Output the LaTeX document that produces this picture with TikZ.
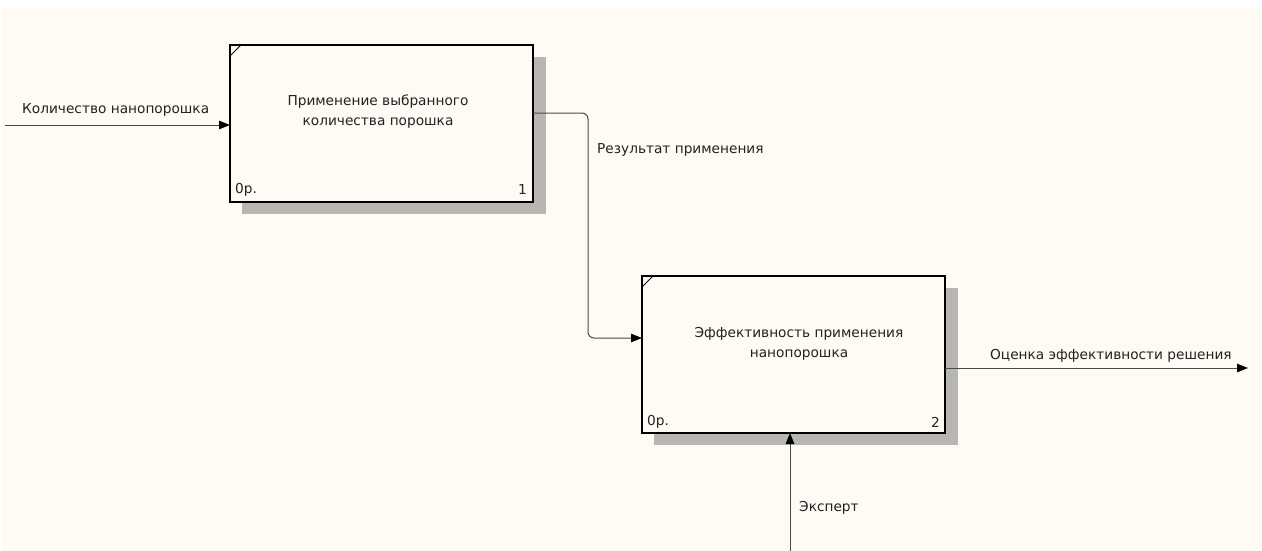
\documentclass[tikz,border=0pt]{standalone}
\usepackage{fontspec}
\setmainfont{DejaVu Sans}
\usetikzlibrary{arrows.meta}
\definecolor{paper}{HTML}{FFFAF3}
\definecolor{ink}{HTML}{222222}
\definecolor{wire}{HTML}{4A4A4A}
\definecolor{shadowgray}{HTML}{B8B6B2}
\begin{document}
\begin{tikzpicture}[x=1pt,y=-1pt,
  actbox/.style={draw=black, line width=1.6pt, fill=paper, minimum width=303pt,
    minimum height=157pt, inner sep=0pt, outer sep=0pt, anchor=north west},
  lbl/.style={font=\fontsize{13.7}{20}\selectfont, text=ink, inner sep=0pt},
  wirearrow/.style={draw=wire, line width=1pt,
    -{Triangle[length=11pt,width=8.5pt,color=black]}}
]
% canvas
\useasboundingbox (0,0) rectangle (1262,551);
\fill[white] (0,0) rectangle (1262,551);
\fill[paper] (2,8) rectangle (1260,551);

% drop shadows
\fill[shadowgray] (242,57) rectangle (546,214);
\fill[shadowgray] (654,288) rectangle (958,445);

% activity boxes
\node[actbox] (b1) at (230,45) {};
\node[actbox] (b2) at (642,276) {};
\draw[line width=0.8pt] (230,56) -- (241,45);
\draw[line width=0.8pt] (642,287) -- (653,276);

% box texts
\node[lbl, align=center] (t1) at (378,112) {Применение выбранного\\количества порошка};
\node[lbl, align=center] (t2) at (799,344) {Эффективность применения\\нанопорошка};
\node[lbl, anchor=west] (n1a) at (235,190) {0р.};
\node[lbl, anchor=east] (n1b) at (527,190) {1};
\node[lbl, anchor=west] (n2a) at (647,422) {0р.};
\node[lbl, anchor=east] (n2b) at (940,422) {2};

% free ends of boundary arrows
\coordinate (inL) at (5,125);
\coordinate (outR) at (1248,368);
\coordinate (mechB) at (790,551);

% connectors
\draw[wirearrow] (inL) -- (b1.west |- inL);
\draw[wirearrow, rounded corners=6pt] (b1.east |- 0,113) -- (588,113) -- (588,338) -- (b2.west |- 0,338);
\draw[wirearrow] (b2.east |- outR) -- (outR);
\draw[wirearrow] (mechB) -- (b2.south -| mechB);

% connector labels
\node[lbl, anchor=west] (l1) at (22,110) {Количество нанопорошка};
\node[lbl, anchor=west] (l2) at (597,150) {Результат применения};
\node[lbl, anchor=west] (l3) at (990,356) {Оценка эффективности решения};
\node[lbl, anchor=west] (l4) at (799,508) {Эксперт};
\end{tikzpicture}
\end{document}
